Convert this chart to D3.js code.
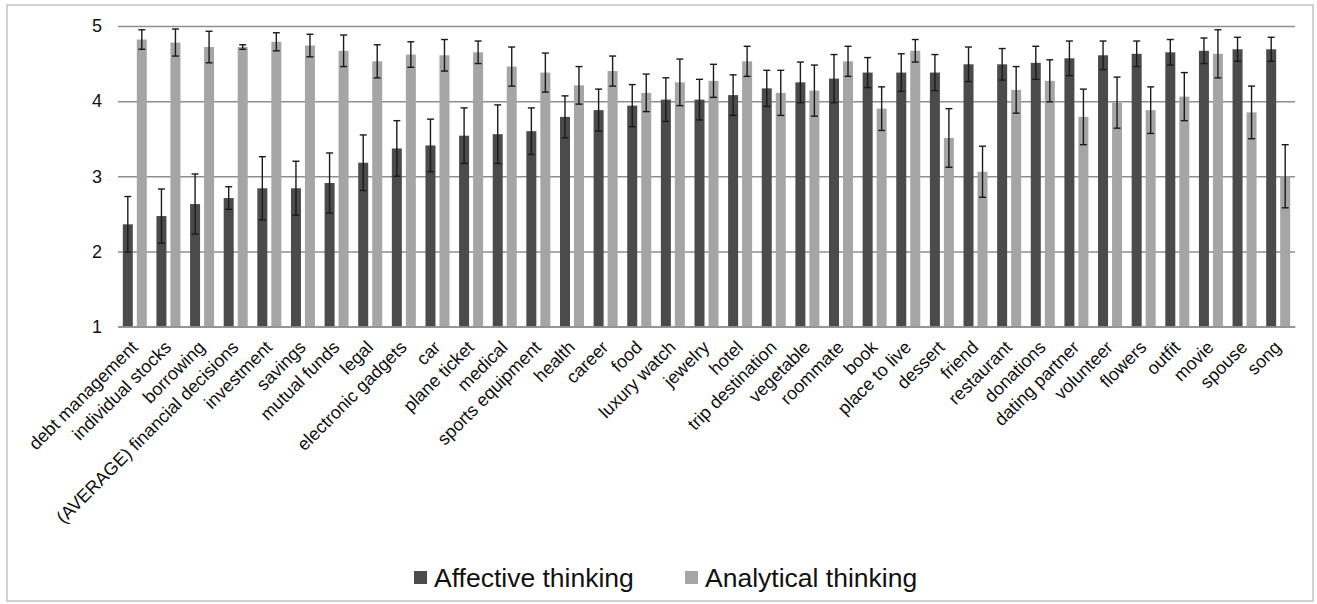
<!DOCTYPE html>
<html>
<head>
<meta charset="utf-8">
<script src="https://cdn.jsdelivr.net/npm/d3@7"></script>
<style>
  body { margin: 0; background: #fff; }
  text { font-family: "Liberation Sans", Arial, sans-serif; fill: #111; }
</style>
</head>
<body>
<div id="chart"></div>
<script>
// categories along the x axis
const categories = ["debt management", "individual stocks", "borrowing", "(AVERAGE) financial decisions",
  "investment", "savings", "mutual funds", "legal", "electronic gadgets", "car", "plane ticket", "medical",
  "sports equipment", "health", "career", "food", "luxury watch", "jewelry", "hotel", "trip destination",
  "vegetable", "roommate", "book", "place to live", "dessert", "friend", "restaurant", "donations",
  "dating partner", "volunteer", "flowers", "outfit", "movie", "spouse", "song"];

// mean ratings
const affective = [2.36, 2.47, 2.63, 2.71, 2.84, 2.84, 2.91, 3.18, 3.37, 3.41, 3.54, 3.56, 3.60, 3.79, 3.88,
  3.94, 4.02, 4.02, 4.08, 4.17, 4.25, 4.30, 4.38, 4.38, 4.38, 4.49, 4.49, 4.51, 4.57, 4.61, 4.63, 4.65,
  4.67, 4.69, 4.69];
const analytical = [4.82, 4.78, 4.72, 4.72, 4.79, 4.74, 4.67, 4.53, 4.62, 4.61, 4.65, 4.46, 4.38, 4.21, 4.40,
  4.11, 4.25, 4.27, 4.53, 4.11, 4.14, 4.53, 3.90, 4.67, 3.51, 3.06, 4.15, 4.27, 3.79, 3.98, 3.88, 4.06,
  4.63, 3.85, 3.00];

// error bar half widths
const affectiveErr = [0.37, 0.36, 0.40, 0.15, 0.42, 0.36, 0.40, 0.37, 0.37, 0.35, 0.37, 0.39, 0.31, 0.28, 0.28,
  0.28, 0.29, 0.27, 0.27, 0.24, 0.27, 0.32, 0.20, 0.25, 0.24, 0.23, 0.21, 0.22, 0.23, 0.19, 0.17, 0.17,
  0.17, 0.16, 0.16];
const analyticalErr = [0.13, 0.18, 0.21, 0.03, 0.12, 0.15, 0.21, 0.22, 0.17, 0.21, 0.15, 0.26, 0.26, 0.25, 0.20,
  0.25, 0.31, 0.22, 0.20, 0.30, 0.34, 0.20, 0.29, 0.15, 0.39, 0.34, 0.31, 0.28, 0.37, 0.34, 0.31, 0.32,
  0.32, 0.35, 0.42];

const yTicks = [1, 2, 3, 4, 5];
const seriesNames = ["Affective thinking", "Analytical thinking"];
const colors = ["#4b4b4b", "#a5a5a5"];

const width = 1317, height = 604;
const plot = {left: 118, right: 1295, top: 26, bottom: 326.5};

const svg = d3.select("#chart").append("svg")
    .attr("width", width)
    .attr("height", height);

// outer frame
svg.append("rect")
    .attr("x", 7).attr("y", 5)
    .attr("width", 1306).attr("height", 596)
    .attr("fill", "none")
    .attr("stroke", "#c4c4c4")
    .attr("stroke-width", 1.5);

const x = d3.scaleBand()
    .domain(categories)
    .range([plot.left, plot.right])
    .padding(0);

const y = d3.scaleLinear()
    .domain([1, 5])
    .range([plot.bottom, plot.top]);

// gridlines + y labels
const yAxis = svg.append("g")
    .attr("transform", `translate(${plot.left},0)`)
    .call(d3.axisLeft(y).tickValues(yTicks).tickFormat(d3.format("d"))
      .tickSize(-(plot.right - plot.left)).tickPadding(16));
yAxis.select(".domain").remove();
yAxis.selectAll(".tick line")
    .attr("stroke", "#8e8e8e")
    .attr("stroke-width", 1.5);
yAxis.selectAll(".tick text")
    .attr("font-size", "18px")
    .attr("font-family", "Liberation Sans, Arial, sans-serif")
    .attr("fill", "#111");

// bars
const barW = 10, gap = 2;
const series = [
  {name: seriesNames[0], values: affective, err: affectiveErr, offset: -gap - barW},
  {name: seriesNames[1], values: analytical, err: analyticalErr, offset: gap}
];

series.forEach(function(s, si) {
  const g = svg.append("g");
  const rows = categories.map((c, i) => ({cat: c, v: s.values[i], e: s.err[i]}));

  g.selectAll("rect")
    .data(rows)
    .enter().append("rect")
      .attr("x", d => x(d.cat) + x.bandwidth() / 2 + s.offset)
      .attr("y", d => y(d.v))
      .attr("width", barW)
      .attr("height", d => y(1) - y(d.v))
      .attr("fill", colors[si]);

  // error bars
  const eb = g.selectAll("g.err")
    .data(rows)
    .enter().append("g")
      .attr("class", "err")
      .attr("stroke", "#1a1a1a")
      .attr("stroke-width", 1.4);
  const cx = d => x(d.cat) + x.bandwidth() / 2 + s.offset + barW / 2;
  eb.append("line")
      .attr("x1", cx).attr("x2", cx)
      .attr("y1", d => y(d.v + d.e)).attr("y2", d => y(d.v - d.e));
  eb.append("line")
      .attr("x1", d => cx(d) - 3.5).attr("x2", d => cx(d) + 3.5)
      .attr("y1", d => y(d.v + d.e)).attr("y2", d => y(d.v + d.e));
  eb.append("line")
      .attr("x1", d => cx(d) - 3.5).attr("x2", d => cx(d) + 3.5)
      .attr("y1", d => y(d.v - d.e)).attr("y2", d => y(d.v - d.e));
});

// x axis
const xAxis = svg.append("g")
    .attr("transform", `translate(0,${plot.bottom})`)
    .call(d3.axisBottom(x).tickSize(0).tickPadding(0));
xAxis.select(".domain")
    .attr("stroke", "#8e8e8e")
    .attr("stroke-width", 1.5);
xAxis.selectAll(".tick text")
    .attr("font-size", "18px")
    .attr("font-family", "Liberation Sans, Arial, sans-serif")
    .attr("fill", "#111")
    .attr("text-anchor", "end")
    .attr("dy", null)
    .attr("y", 0)
    .attr("transform", "translate(4,22) rotate(-45)");

// legend
const legend = svg.append("g");
const legendX = [414, 685];
seriesNames.forEach(function(name, i) {
  legend.append("rect")
      .attr("x", legendX[i]).attr("y", 571)
      .attr("width", 13).attr("height", 13)
      .attr("fill", colors[i]);
  legend.append("text")
      .attr("x", legendX[i] + 20).attr("y", 587)
      .attr("font-size", "26.5px")
      .text(name);
});
</script>
</body>
</html>
